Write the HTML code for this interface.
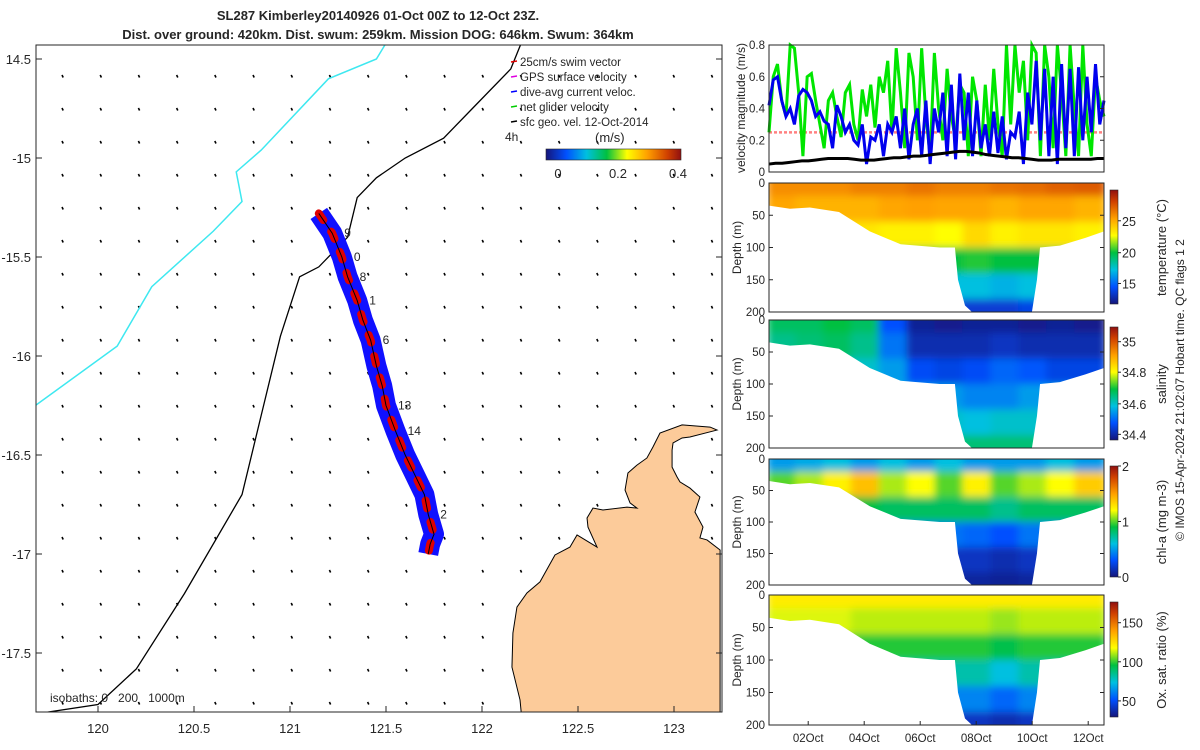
<!DOCTYPE html>
<html><head><meta charset="utf-8"><style>
body{margin:0;background:#fff;}
svg{display:block;font-family:"Liberation Sans",sans-serif;}
text{fill:#262626;}
</style></head><body>
<svg id="fig" width="1200" height="750" viewBox="0 0 1200 750">
<defs>
<filter id="blur" x="-5%" y="-5%" width="110%" height="110%"><feGaussianBlur stdDeviation="4"/></filter>
<linearGradient id="jet" x1="0" y1="0" x2="1" y2="0">
<stop offset="0" stop-color="#15157a"/><stop offset="0.15" stop-color="#0050ff"/><stop offset="0.3" stop-color="#00c0e0"/><stop offset="0.45" stop-color="#00c040"/><stop offset="0.6" stop-color="#ffff00"/><stop offset="0.75" stop-color="#ffa000"/><stop offset="0.9" stop-color="#d04000"/><stop offset="1" stop-color="#901010"/>
</linearGradient>
<linearGradient id="jetv" x1="0" y1="1" x2="0" y2="0">
<stop offset="0" stop-color="#15157a"/><stop offset="0.15" stop-color="#0050ff"/><stop offset="0.3" stop-color="#00c0e0"/><stop offset="0.45" stop-color="#00c040"/><stop offset="0.6" stop-color="#ffff00"/><stop offset="0.75" stop-color="#ffa000"/><stop offset="0.9" stop-color="#d04000"/><stop offset="1" stop-color="#901010"/>
</linearGradient>
</defs>
<text x="378" y="20" text-anchor="middle" font-size="13" font-weight="bold">SL287 Kimberley20140926 01-Oct 00Z to 12-Oct 23Z.</text>
<text x="378" y="39" text-anchor="middle" font-size="13" font-weight="bold">Dist. over ground: 420km. Dist. swum: 259km. Mission DOG: 646km. Swum: 364km</text>
<g id="map"></g>
<g id="right"></g>
<text transform="translate(1184,390) rotate(-90)" text-anchor="middle" font-size="12">© IMOS 15-Apr-2024 21:02:07 Hobart time. QC flags 1  2</text>
</svg>
<script>
// ---- map data ----
const xTickLabels=["120","120.5","121","121.5","122","122.5","123"];
const xTickVals=[120,120.5,121,121.5,122,122.5,123];
const yTickVals=[-14.5,-15,-15.5,-16,-16.5,-17,-17.5];
const yTickLabels=["14.5","-15","-15.5","-16","-16.5","-17","-17.5"];
const trackLon=[121.15,121.22,121.27,121.3,121.35,121.38,121.42,121.45,121.48,121.5,121.55,121.6,121.65,121.7,121.72,121.75,121.73,121.72];
const trackLat=[-15.28,-15.38,-15.5,-15.6,-15.72,-15.82,-15.92,-16.05,-16.15,-16.25,-16.38,-16.5,-16.6,-16.7,-16.8,-16.9,-16.95,-17.0];
const coastLon=[119.66,120.0,120.2,120.45,120.75,120.85,120.95,121.05,121.15,121.3,121.35,121.45,121.6,121.8,121.95,122.15,122.2];
const coastLat=[-17.81,-17.76,-17.58,-17.2,-16.7,-16.3,-15.9,-15.6,-15.55,-15.4,-15.2,-15.1,-15.0,-14.9,-14.75,-14.55,-14.43];
const isoLon=[119.66,120.1,120.28,120.6,120.75,120.72,120.85,121.2,121.45,121.5];
const isoLat=[-16.26,-15.95,-15.65,-15.37,-15.22,-15.07,-14.96,-14.6,-14.5,-14.42];
const landLon=[123.24,123.172,123.135,123.151,123.109,123.135,123.083,123.031,123.016,122.99,122.99,122.995,123.042,123.083,123.224,123.188,123.042,122.927,122.89,122.859,122.807,122.76,122.745,122.771,122.807,122.755,122.63,122.578,122.547,122.552,122.599,122.495,122.458,122.38,122.302,122.234,122.182,122.161,122.156,122.198,122.208,123.24];
const landLat=[-16.98,-16.929,-16.919,-16.864,-16.788,-16.712,-16.667,-16.636,-16.611,-16.561,-16.475,-16.439,-16.414,-16.409,-16.374,-16.359,-16.348,-16.389,-16.46,-16.515,-16.551,-16.591,-16.677,-16.742,-16.768,-16.763,-16.778,-16.768,-16.818,-16.864,-16.965,-16.904,-16.965,-17.005,-17.141,-17.197,-17.268,-17.399,-17.571,-17.737,-17.838,-17.838];
// ---- velocity data ----
const velGreen=[.25,.6,.68,.45,.35,.8,.78,.5,.1,.6,.62,.45,.3,.15,.45,.5,.35,.22,.5,.55,.3,.2,.52,.35,.55,.28,.6,.5,.7,.25,.78,.5,.15,.75,.6,.2,.78,.35,.1,.75,.4,.2,.65,.35,.2,.55,.5,.1,.6,.45,.1,.55,.2,.65,.3,.1,.8,.3,.8,.5,.7,.2,.8,.75,.1,.8,.6,.15,.8,.5,.1,.8,.4,.1,.8,.3,.1,.6,.45,.35];
const velBlue=[.42,.58,.6,.45,.35,.4,.3,.48,.52,.5,.45,.35,.38,.32,.3,.15,.42,.35,.25,.3,.2,.17,.3,.05,.22,.2,.3,.1,.3,.25,.35,.15,.4,.08,.3,.4,.1,.45,.05,.4,.25,.5,.1,.55,.08,.62,.2,.5,.1,.45,.15,.3,.1,.38,.12,.35,.08,.25,.22,.38,.05,.5,.3,.7,.2,.65,.1,.6,.05,.68,.15,.65,.1,.66,.2,.6,.25,.68,.3,.45];
const velBlack=[.05,.055,.055,.06,.065,.07,.07,.075,.08,.085,.085,.085,.085,.08,.075,.075,.075,.08,.085,.09,.09,.095,.1,.1,.105,.11,.115,.12,.125,.13,.13,.125,.12,.11,.105,.1,.095,.09,.09,.085,.08,.075,.075,.075,.08,.08,.08,.08,.08,.08,.085,.085];
// ---- section data (normalised 0-1 colour values) ----
const dayTicks=["02Oct","04Oct","06Oct","08Oct","10Oct","12Oct"];
const dayVals=[2,4,6,8,10,12];
const bottomDays=[0.6,1.35,2.06,3.1,4.2,5.3,6.7,7.24,7.35,7.6,7.85,9.99,10.17,10.28,10.99,11.9,12.6];
const bottomDepth=[35,40,38,45,75,95,100,100,150,190,200,200,150,100,97,85,75];
const tempGrid=[
[.78,.78,.78,.8,.8,.82,.8,.8,.82,.83,.85,.86],
[.74,.72,.72,.72,.74,.75,.74,.74,.72,.74,.74,.72],
[.66,.66,.66,.64,.62,.62,.6,.66,.62,.64,.64,.62],
[.45,.45,.45,.45,.45,.45,.45,.47,.45,.45,.45,.45],
[.3,.3,.3,.3,.3,.3,.3,.3,.28,.3,.3,.3],
[.12,.12,.12,.12,.12,.12,.12,.1,.1,.12,.12,.12]];
const salGrid=[
[.42,.42,.45,.42,.15,.03,.02,.03,.03,.02,.03,.02],
[.38,.4,.42,.38,.2,.06,.06,.06,.08,.06,.06,.06],
[.32,.32,.35,.32,.25,.14,.12,.14,.18,.16,.12,.12],
[.28,.28,.28,.28,.28,.25,.25,.22,.22,.25,.25,.25],
[.32,.32,.32,.32,.32,.32,.32,.3,.32,.32,.32,.32],
[.4,.4,.4,.4,.4,.4,.4,.4,.4,.4,.4,.4]];
const chlGrid=[
[.25,.27,.3,.25,.3,.25,.3,.25,.25,.25,.3,.25],
[.5,.55,.62,.7,.55,.6,.5,.62,.5,.55,.6,.68],
[.42,.42,.45,.45,.42,.42,.42,.42,.38,.42,.42,.42],
[.2,.2,.2,.2,.2,.2,.2,.18,.15,.2,.2,.2],
[.08,.08,.08,.08,.08,.08,.08,.08,.06,.08,.08,.08],
[.04,.04,.04,.04,.04,.04,.04,.04,.03,.04,.04,.04]];
const oxyGrid=[
[.63,.63,.63,.63,.63,.63,.63,.63,.63,.63,.63,.63],
[.58,.58,.58,.56,.56,.56,.56,.56,.54,.56,.56,.56],
[.47,.47,.47,.47,.47,.47,.47,.47,.44,.47,.47,.47],
[.35,.35,.35,.35,.35,.35,.35,.35,.3,.35,.35,.35],
[.22,.22,.22,.22,.22,.22,.22,.22,.18,.22,.22,.22],
[.08,.08,.08,.08,.08,.08,.08,.08,.06,.08,.08,.08]];

const NS="http://www.w3.org/2000/svg";
function mk(tag,attrs,parent){const e=document.createElementNS(NS,tag);for(const k in attrs)e.setAttribute(k,attrs[k]);parent.appendChild(e);return e;}
const cmStops=[[0,[21,21,122]],[0.15,[0,80,255]],[0.3,[0,192,224]],[0.45,[0,192,64]],[0.6,[255,255,0]],[0.75,[255,160,0]],[0.9,[208,64,0]],[1,[144,16,16]]];
function jet(v){v=Math.max(0,Math.min(1,v));for(let i=1;i<cmStops.length;i++){if(v<=cmStops[i][0]){const a=cmStops[i-1],b=cmStops[i],f=(v-a[0])/(b[0]-a[0]);return `rgb(${a[1].map((c,k)=>Math.round(c+(b[1][k]-c)*f)).join(",")})`;}}return 'rgb(144,16,16)';}

// ---- MAP ----
const map=document.getElementById('map');
const L=36,R=722,T=45,B=712;
const sx=lon=>98+(lon-120)*192, sy=lat=>59+(-14.5-lat)*198;
const mapClip=mk('clipPath',{id:'mapclip'},map);
mk('rect',{x:L,y:T,width:R-L,height:B-T},mapClip);
const mg=mk('g',{'clip-path':'url(#mapclip)'},map);
let land=landLon.map((v,i)=>sx(v)+","+sy(landLat[i])).join(" ");
let landEl=mk('polygon',{points:land,fill:'#fccb9a',stroke:'#000','stroke-width':1},mg);


const svgRoot=document.getElementById('fig');
let e;
for(let r=0;r<21;r++){for(let c=0;c<18;c++){
 const x=62+c*38.2,y=75+r*33;
 if(y>B-3) continue;
 const p=svgRoot.createSVGPoint();p.x=x;p.y=y;
 if(landEl.isPointInFill(p)) continue;
 e=mk('line',{x1:x,y1:y,x2:x+1.2,y2:y+2.5,stroke:'#000','stroke-width':1.6},mg);
 
 
}}
e=mk('polyline',{points:isoLon.map((v,i)=>sx(v)+","+sy(isoLat[i])).join(" "),fill:'none',stroke:'#3ee8f0','stroke-width':1.5},mg);


e=mk('polyline',{points:coastLon.map((v,i)=>sx(v)+","+sy(coastLat[i])).join(" "),fill:'none',stroke:'#000','stroke-width':1.3},mg);


const tp=trackLon.map((v,i)=>sx(v)+","+sy(trackLat[i])).join(" ");
e=mk('polyline',{points:tp,fill:'none',stroke:'#1010ff','stroke-width':20,'stroke-linejoin':'round'},mg);


e=mk('polyline',{points:tp,fill:'none',stroke:'#e00000','stroke-width':8,'stroke-dasharray':'8 14','stroke-linecap':'round','stroke-linejoin':'round'},mg);


e=mk('polyline',{points:tp,fill:'none',stroke:'#000','stroke-width':1},mg);


const dayLbl=["9","0","8","1","6","13","14","2"],dayIdx=[1,2,3,4,6,9,10,14];
dayLbl.forEach((s,i)=>{const t=mk('text',{x:sx(trackLon[dayIdx[i]])+12,y:sy(trackLat[dayIdx[i]])+4,'font-size':12},map);t.textContent=s;

});
e=mk('rect',{x:L,y:T,width:R-L,height:B-T,fill:'none',stroke:'#262626','stroke-width':1},map);


xTickVals.forEach((v,i)=>{const x=sx(v);mk('line',{x1:x,y1:B,x2:x,y2:B-6,stroke:'#262626'},map);
const t=mk('text',{x:x,y:B+21,'text-anchor':'middle','font-size':13},map);t.textContent=xTickLabels[i];

});
yTickVals.forEach((v,i)=>{const y=sy(v);mk('line',{x1:L,y1:y,x2:L+6,y2:y,stroke:'#262626'},map);mk('line',{x1:R,y1:y,x2:R-6,y2:y,stroke:'#262626'},map);
const t=mk('text',{x:L-5,y:y+5,'text-anchor':'end','font-size':13},map);t.textContent=yTickLabels[i];

});
const legTxt=["25cm/s swim vector","GPS surface velocity","dive-avg current veloc.","net glider velocity","sfc geo. vel. 12-Oct-2014"],legCol=["#e00000","#e000e0","#0000ff","#00cc00","#000"];
legTxt.forEach((s,i)=>{const y=62+i*15;mk('line',{x1:511,y1:y,x2:517,y2:y-1,stroke:legCol[i],'stroke-width':1.5},map);
const t=mk('text',{x:520,y:y+4,'font-size':11.5},map);t.textContent=s;

});
let t=mk('text',{x:505,y:141,'font-size':12},map);t.textContent="4h";
t=mk('text',{x:595,y:142,'font-size':13},map);t.textContent="(m/s)";


e=mk('rect',{x:546,y:149,width:135,height:11,fill:'url(#jet)',stroke:'#262626','stroke-width':0.6},map);


["0","0.2","0.4"].forEach((s,i)=>{const t=mk('text',{x:558+i*60,y:178,'text-anchor':'middle','font-size':13},map);t.textContent=s;

});
t=mk('text',{x:50,y:702,'font-size':12},map);t.textContent="isobaths: 0   200   1000m";
t.setAttribute('style','white-space:pre');



// ---- RIGHT PANELS ----
const rp=document.getElementById('right');
const PX0=769,PX1=1104;
const tx=d=>PX0+(d-0.6)*28;
const VT=45,VB=172,vy=v=>VB-v/0.8*(VB-VT);
e=mk('line',{x1:PX0,y1:vy(0.25),x2:PX1,y2:vy(0.25),stroke:'#ff8080','stroke-width':2.5,'stroke-dasharray':'3 2'},rp);


[[velGreen,'#00e600','net-speed-line'],[velBlue,'#0000ee','current-speed-line'],[velBlack,'#000','geostrophic-speed-line']].forEach(([arr,c,n])=>{
 const vx=i=>PX0+i*(PX1-PX0)/(arr.length-1);
 const l=mk('polyline',{points:arr.map((v,i)=>vx(i)+","+vy(Math.min(v,0.8))).join(" "),fill:'none',stroke:c,'stroke-width':3},rp);
 
 });
e=mk('rect',{x:PX0,y:VT,width:PX1-PX0,height:VB-VT,fill:'none',stroke:'#262626'},rp);


["0","0.2","0.4","0.6","0.8"].forEach((s,i)=>{const y=vy(i*0.2);mk('line',{x1:PX1,y1:y,x2:PX1-4,y2:y,stroke:'#262626'},rp);
const t=mk('text',{x:PX0-4,y:y+4,'text-anchor':'end','font-size':11.5},rp);t.textContent=s;

});
t=mk('text',{transform:`translate(745,108) rotate(-90)`,'text-anchor':'middle','font-size':12},rp);t.textContent="velocity magnitude (m/s)";



const panels=[
 {top:183,bot:312,grid:tempGrid,label:"temperature (°C)",ticks:["25","20","15"],tv:[.73,.45,.18],name:'temperature'},
 {top:320,bot:448,grid:salGrid,label:"salinity",ticks:["35","34.8","34.6","34.4"],tv:[.87,.6,.32,.05],name:'salinity'},
 {top:459,bot:585,grid:chlGrid,label:"chl-a (mg m-3)",ticks:["2","1","0"],tv:[1,.5,0],name:'chlorophyll'},
 {top:595,bot:725,grid:oxyGrid,label:"Ox. sat. ratio (%)",ticks:["150","100","50"],tv:[.82,.48,.14],name:'oxygen'}];
panels.forEach((p,pi)=>{
 const g=mk('g',{},rp);
 
 
 const dy=d=>p.top+d/200*(p.bot-p.top);
 const cid='clip'+pi;
 const cp=mk('clipPath',{id:cid},g);
 let pts=PX0+","+p.top+" "+bottomDays.map((d,i)=>Math.max(PX0,Math.min(PX1,tx(d)))+","+dy(bottomDepth[i])).join(" ")+" "+PX1+","+p.top;
 mk('polygon',{points:pts},cp);
 const cg=mk('g',{'clip-path':`url(#${cid})`},g);
 const hg=mk('g',{filter:'url(#blur)'},cg);
 const nr=p.grid.length,nc=p.grid[0].length,cw=(PX1-PX0)/nc,ch=(p.bot-p.top)/(nr-1);
 p.grid.forEach((row,r)=>row.forEach((v,c)=>{
  const cell=mk('rect',{x:PX0+c*cw-2,y:p.top+(r-0.5)*ch,width:cw+4,height:ch+1,fill:jet(v)},hg);
  
  }));
 mk('rect',{x:PX0,y:p.top,width:PX1-PX0,height:p.bot-p.top,fill:'none',stroke:'#262626'},g);
 [0,50,100,150,200].forEach(d=>{const y=dy(d);mk('line',{x1:PX0,y1:y,x2:PX0+4,y2:y,stroke:'#262626'},g);mk('line',{x1:PX1,y1:y,x2:PX1-4,y2:y,stroke:'#262626'},g);
  const t=mk('text',{x:PX0-4,y:y+4,'text-anchor':'end','font-size':11.5},g);t.textContent=d;
  
  });
 const t=mk('text',{transform:`translate(741,${(p.top+p.bot)/2}) rotate(-90)`,'text-anchor':'middle','font-size':12},g);t.textContent="Depth (m)";
 
 
 const cbT=p.top+7,cbB=p.bot-8;
 const cb=mk('rect',{x:1110,y:cbT,width:8,height:cbB-cbT,fill:'url(#jetv)',stroke:'#262626','stroke-width':0.6},g);
 
 
 p.ticks.forEach((s,i)=>{const y=cbB-p.tv[i]*(cbB-cbT);mk('line',{x1:1118,y1:y,x2:1121,y2:y,stroke:'#262626'},g);
  const tt=mk('text',{x:1122,y:y+5,'font-size':12.5},g);tt.textContent=s;
  
  });
 const lt=mk('text',{transform:`translate(1166,${(p.top+p.bot)/2}) rotate(-90)`,'text-anchor':'middle','font-size':13},g);lt.textContent=p.label;
 
 
 if(pi===3){dayVals.forEach((d,i)=>{const x=tx(d);mk('line',{x1:x,y1:p.bot,x2:x,y2:p.bot-4,stroke:'#262626'},g);
  const tt=mk('text',{x:x,y:p.bot+17,'text-anchor':'middle','font-size':11.5},g);tt.textContent=dayTicks[i];
  
  });}
});
</script>
</body></html>
